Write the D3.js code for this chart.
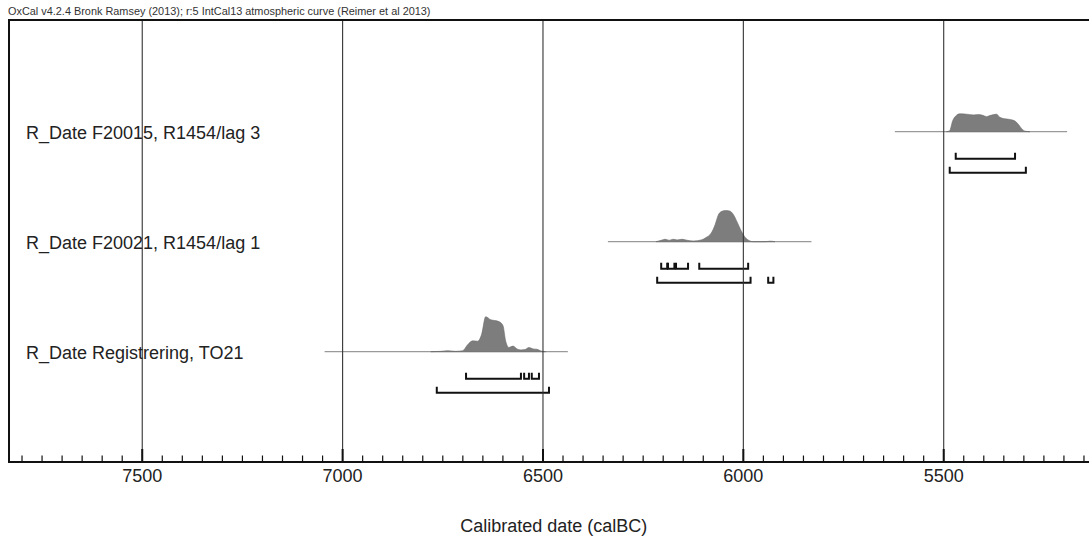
<!DOCTYPE html>
<html><head><meta charset="utf-8">
<script src="https://cdn.jsdelivr.net/npm/d3@7"></script>
<style>
html,body{margin:0;padding:0;background:#fff;overflow:hidden;}
text{font-family:"Liberation Sans",Arial,sans-serif;}
</style></head>
<body>
<svg id="chart" width="1089" height="537"></svg>
<script>
// ---- data ----
const headerText = "OxCal v4.2.4 Bronk Ramsey (2013); r:5 IntCal13 atmospheric curve (Reimer et al 2013)";
const axisTitle = "Calibrated date (calBC)";
const rowLabels = ["R_Date F20015, R1454/lag 3", "R_Date F20021, R1454/lag 1", "R_Date Registrering, TO21"];
const majorTicks = [7500, 7000, 6500, 6000, 5500];
const tickLabels = ["7500", "7000", "6500", "6000", "5500"];
// thin baseline extents (calBC)
const priorRanges = [[5622, 5192], [6338, 5830], [7045, 6438]];
// probability densities (relative)
const years1 = [5493, 5485, 5478, 5468, 5460, 5443, 5425, 5413, 5403, 5393, 5385, 5375, 5368, 5360, 5348, 5335, 5323, 5313, 5305, 5295, 5285];
const dens1  = [0, 0.03, 0.30, 0.47, 0.51, 0.50, 0.48, 0.49, 0.47, 0.43, 0.46, 0.49, 0.50, 0.41, 0.37, 0.35, 0.31, 0.20, 0.08, 0.01, 0];
const years2 = [6218, 6205, 6195, 6185, 6175, 6165, 6153, 6140, 6125, 6105, 6093, 6080, 6070, 6063, 6055, 6045, 6035, 6025, 6015, 6005, 5995, 5985, 5975, 5945, 5933, 5921];
const dens2  = [0, 0.04, 0.07, 0.04, 0.07, 0.05, 0.07, 0.04, 0.02, 0.05, 0.12, 0.25, 0.50, 0.75, 0.86, 0.89, 0.88, 0.78, 0.55, 0.30, 0.12, 0.03, 0, 0, 0.015, 0];
const years3 = [6780, 6755, 6738, 6718, 6700, 6688, 6675, 6663, 6653, 6643, 6630, 6620, 6610, 6600, 6593, 6585, 6575, 6565, 6555, 6545, 6535, 6525, 6515, 6505, 6493];
const dens3  = [0, 0.01, 0.03, 0.01, 0.03, 0.20, 0.31, 0.30, 0.50, 1.00, 0.91, 0.89, 0.86, 0.75, 0.30, 0.12, 0.16, 0.08, 0.05, 0.06, 0.12, 0.08, 0.07, 0.02, 0];
// highest posterior density ranges
const range68 = [
  [[5470, 5322]],
  [[6205, 6190], [6188, 6172], [6168, 6138], [6110, 5988]],
  [[6692, 6555], [6547, 6535], [6528, 6510]]
];
const range95 = [
  [[5485, 5295]],
  [[6215, 5982], [5938, 5925]],
  [[6765, 6485]]
];

// ---- layout ----
const svg = d3.select("#chart");
const plotLeft = 9, plotTop = 20, axisY = 462, plotRight = 1102;
const x = d3.scaleLinear().domain([7832.5, 5105]).range([plotLeft, plotRight]);
const y = d3.scalePoint().domain(rowLabels).range([21.7, 461.7]).padding(1);
const h = d3.scaleLinear().domain([0, 1]).range([0, 35]);

const densities = [
  years1.map((yr, i) => [yr, dens1[i]]),
  years2.map((yr, i) => [yr, dens2[i]]),
  years3.map((yr, i) => [yr, dens3[i]])
];

// header
svg.append("text").attr("x", 8).attr("y", 15).attr("font-size", 10.9).attr("fill", "#333").text(headerText);

// row labels
svg.selectAll("text.row").data(rowLabels).join("text")
  .attr("class", "row").attr("x", 26).attr("y", d => y(d) + 3)
  .attr("dominant-baseline", "middle").attr("font-size", 18).attr("fill", "#222").text(d => d);

// baselines, densities, ranges
rowLabels.forEach((lab, i) => {
  const by = y(lab);
  svg.append("line").attr("x1", x(priorRanges[i][0])).attr("x2", x(priorRanges[i][1]))
    .attr("y1", by).attr("y2", by).attr("stroke", "#9a9a9a").attr("stroke-width", 1.2);
  const area = d3.area().x(d => x(d[0])).y0(by).y1(d => by - h(d[1])).curve(d3.curveMonotoneX);
  svg.append("path").datum(densities[i]).attr("d", area).attr("fill", "#7d7d7d").attr("stroke", "#6a6a6a").attr("stroke-width", 0.6);
  const bracket = (r, yy) => `M${x(r[0])},${yy - 6}V${yy}H${x(r[1])}V${yy - 6}`;
  svg.selectAll(null).data(range68[i]).join("path").attr("d", r => bracket(r, by + 27))
    .attr("fill", "none").attr("stroke", "#111").attr("stroke-width", 2);
  svg.selectAll(null).data(range95[i]).join("path").attr("d", r => bracket(r, by + 41))
    .attr("fill", "none").attr("stroke", "#111").attr("stroke-width", 2);
});

// grid lines
svg.selectAll("line.grid").data(majorTicks).join("line").attr("class", "grid")
  .attr("x1", d => x(d)).attr("x2", d => x(d)).attr("y1", plotTop).attr("y2", axisY)
  .attr("stroke", "#333").attr("stroke-width", 1.1);

// frame
svg.append("path").attr("d", `M${plotRight},${plotTop}H${plotLeft}V${axisY}H${plotRight}`)
  .attr("fill", "none").attr("stroke", "#111").attr("stroke-width", 2);

// axis
const minorTicks = d3.range(7800, 5100, -50);
const axis = d3.axisBottom(x).tickValues(minorTicks).tickSize(0).tickFormat("");
const ag = svg.append("g").attr("transform", `translate(0,${axisY})`).call(axis);
ag.select(".domain").remove();
svg.selectAll("line.minor").data(minorTicks).join("line").attr("class", "minor")
  .attr("x1", d => x(d)).attr("x2", d => x(d))
  .attr("y1", d => majorTicks.includes(d) ? axisY - 13 : axisY - 6.5).attr("y2", axisY)
  .attr("stroke", "#111").attr("stroke-width", d => majorTicks.includes(d) ? 2 : 1.2);
svg.selectAll("text.tick").data(majorTicks).join("text").attr("class", "tick")
  .attr("x", d => x(d)).attr("y", 482).attr("text-anchor", "middle")
  .attr("font-size", 18).attr("fill", "#222").text((d, i) => tickLabels[i]);

svg.append("text").attr("x", 553.7).attr("y", 532).attr("text-anchor", "middle")
  .attr("font-size", 18).attr("fill", "#222").text(axisTitle);
</script>
</body></html>
